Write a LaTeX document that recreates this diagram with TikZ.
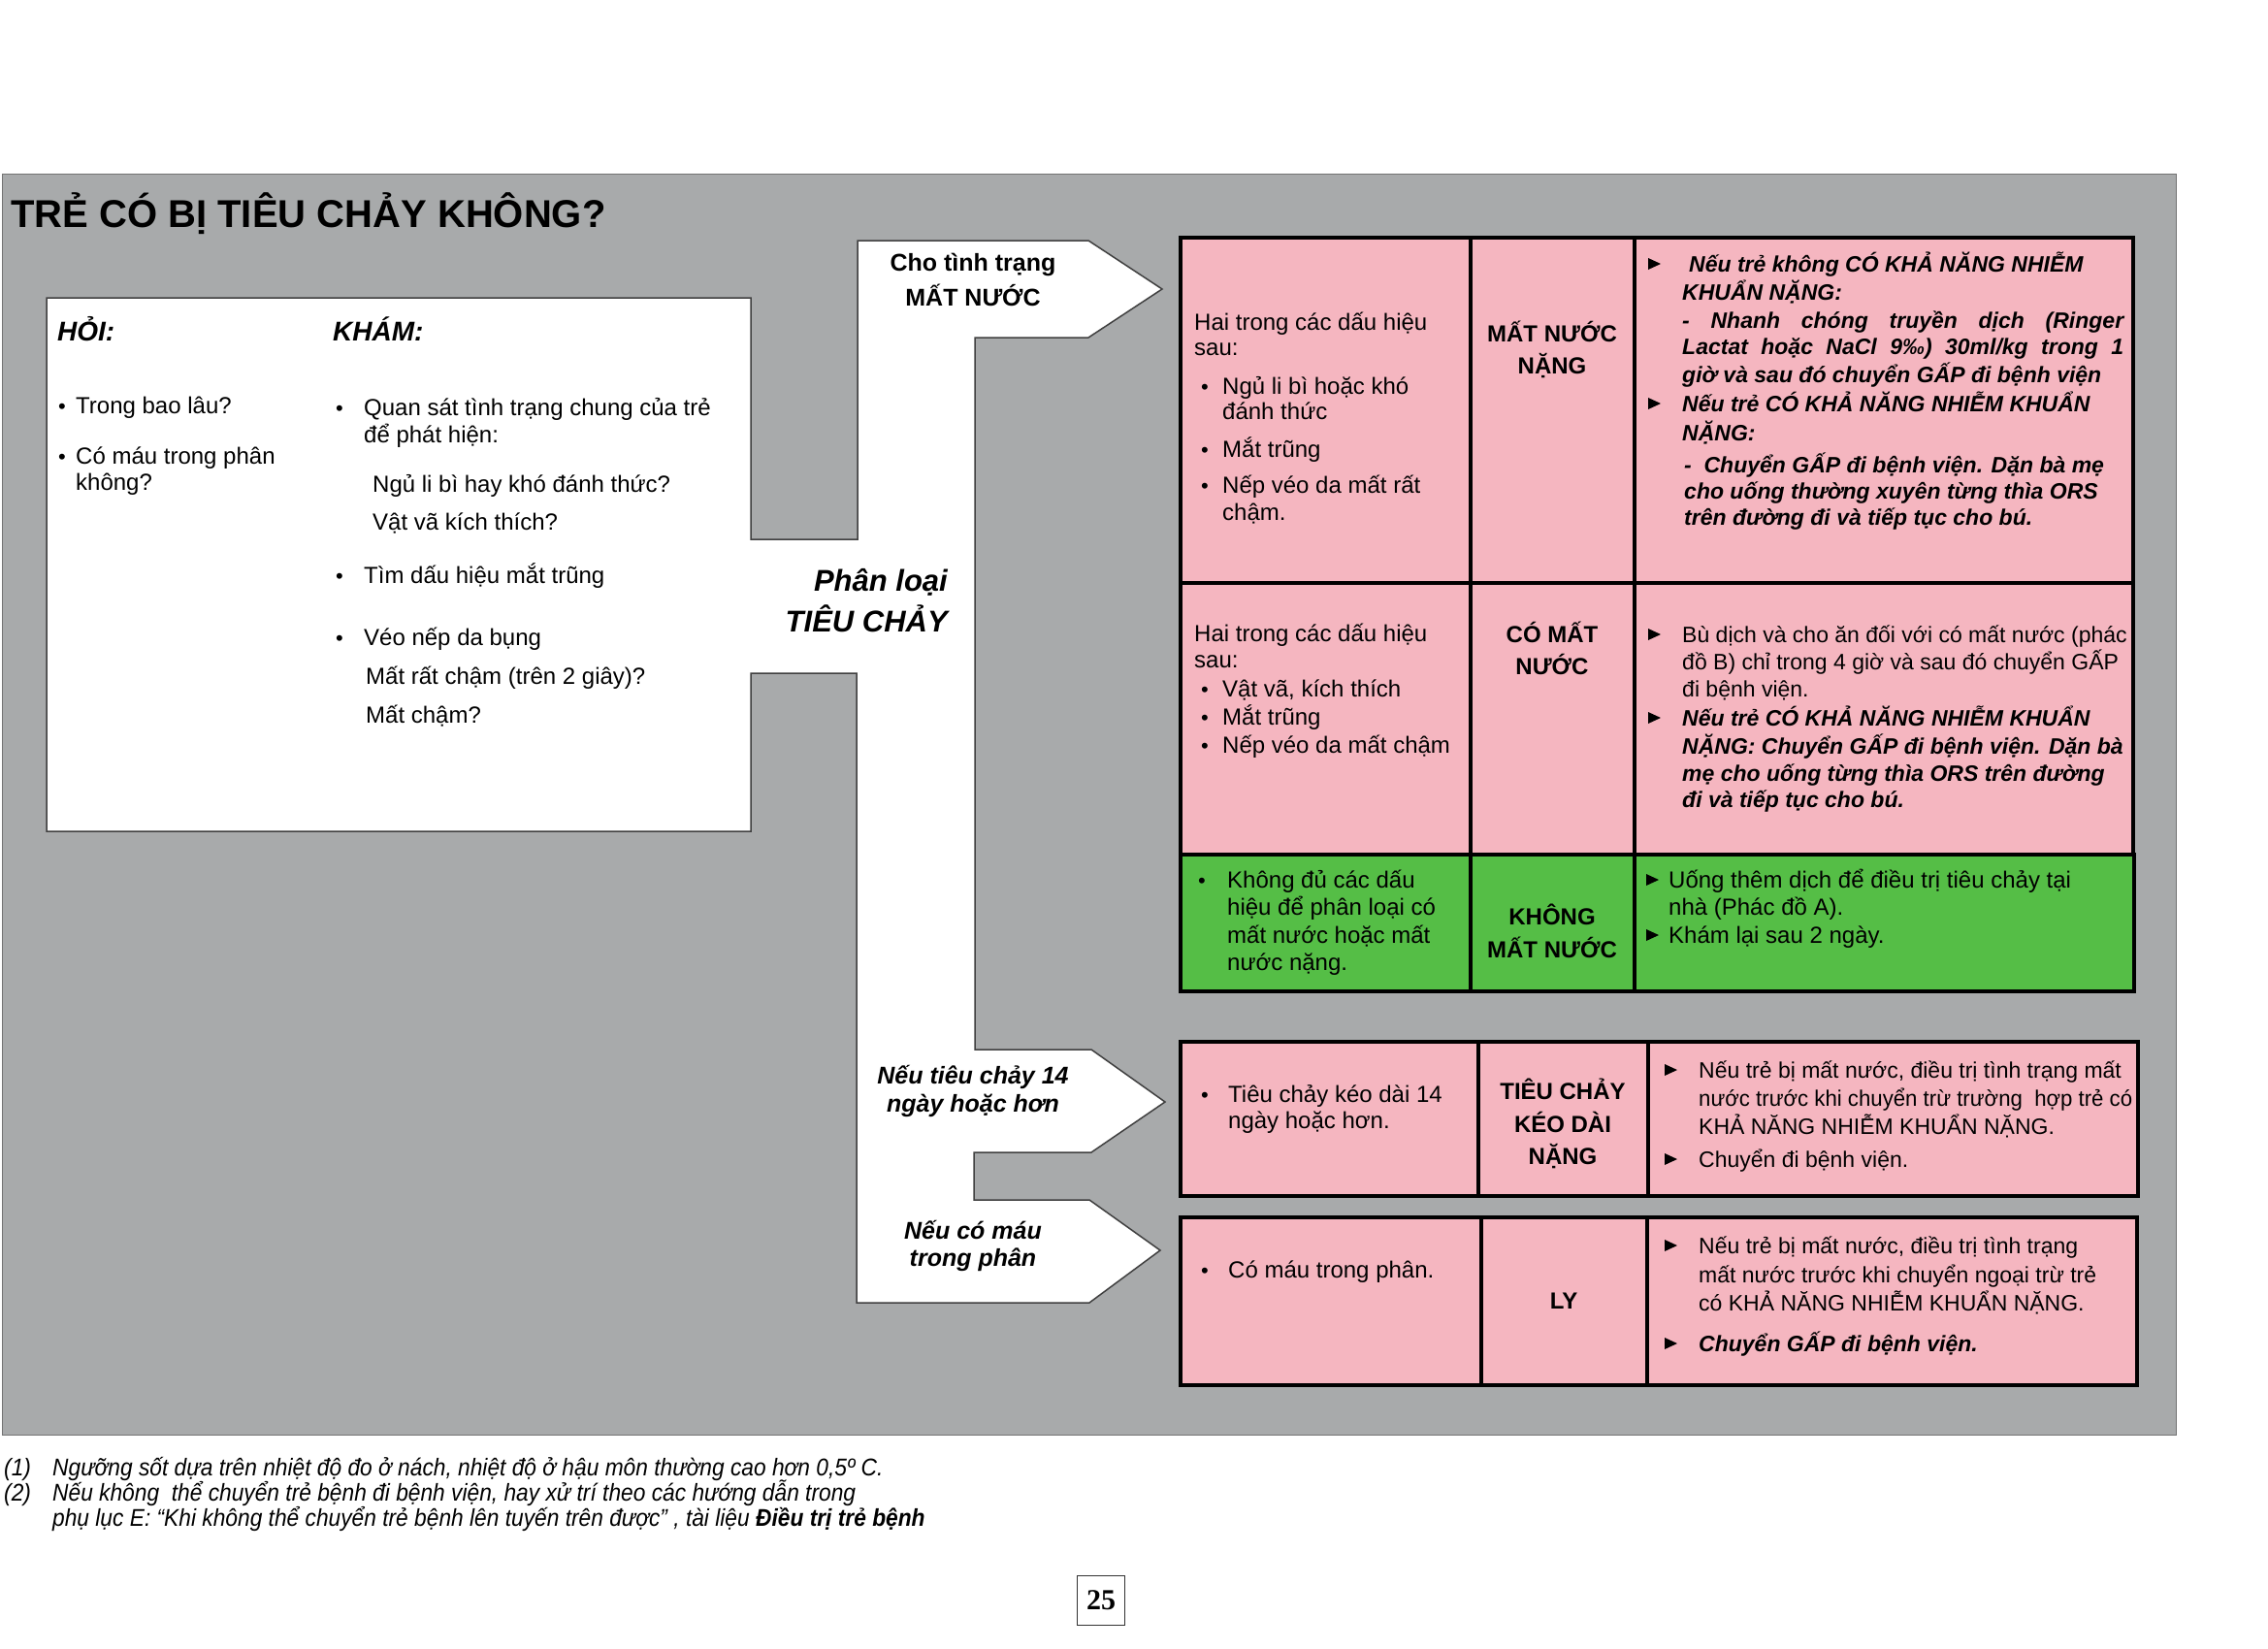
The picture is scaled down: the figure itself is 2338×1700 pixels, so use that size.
\documentclass[tikz,border=0pt]{standalone}
\usepackage{fontspec}
\setmainfont{Liberation Sans}
\newfontfamily\pgnumfont{Liberation Serif}
\newfontfamily\narrowsans[FakeStretch=0.965]{Liberation Sans}
\newfontfamily\fnfont[FakeStretch=0.91]{Liberation Sans}
\newcommand\fs[1]{\fontsize{#1}{#1}\selectfont}
\definecolor{panelgray}{HTML}{A8AAAB}
\definecolor{cellpink}{HTML}{F5B6C0}
\definecolor{cellgreen}{HTML}{55BE46}
\newcommand\tri[2]{\fill (#1,#2-2) -- (#1,#2-14) -- (#1+13,#2-8) -- cycle;}
\begin{document}
\begin{tikzpicture}[x=1pt,y=-1pt,
  body/.style={anchor=base west,inner sep=0pt,font=\fs{24}},
  bodyi/.style={anchor=base west,inner sep=0pt,font=\fs{23}\bfseries\itshape},
  act/.style={anchor=base west,inner sep=0pt,font=\fs{23}},
  cls/.style={anchor=base,inner sep=0pt,font=\fs{24}\bfseries},
  lbl/.style={anchor=base,inner sep=0pt,font=\fs{25}\bfseries},
  lbli/.style={anchor=base,inner sep=0pt,font=\fs{25}\bfseries\itshape},
  head/.style={anchor=base west,inner sep=0pt,font=\fs{28}\bfseries\itshape},
  fn/.style={anchor=base west,inner sep=0pt,font=\fnfont\fs{25}\itshape},
  bul/.style={anchor=base west,inner sep=0pt,font=\fs{22}},
  cell/.style={draw=black,line width=4pt},
  wshape/.style={fill=white,draw=black!75,line width=1.5pt,line join=miter}]
\useasboundingbox (0,0) rectangle (2338,1700);
\fill[white] (0,0) rectangle (2338,1700);
% grey panel
\fill[panelgray,draw=black!55,line width=1pt] (2,179) rectangle (2243,1479);
% title
\node[anchor=base west,inner sep=0pt,font=\fs{40}\bfseries] (title) at (11,234) {TRẺ CÓ BỊ TIÊU CHẢY KHÔNG?};
% white box with T-shaped arrows
\draw[wshape] (48,307) -- (774,307) -- (774,556) -- (884,556) -- (884,248)
  -- (1122,248) -- (1198,298) -- (1122,348) -- (1005,348) -- (1005,1082)
  -- (1125,1082) -- (1201,1136) -- (1125,1188) -- (1004,1188) -- (1004,1237)
  -- (1123,1237) -- (1196,1289) -- (1123,1343) -- (883,1343) -- (883,694)
  -- (774,694) -- (774,857) -- (48,857) -- cycle;
% left box texts
\node[head] (hoi) at (59,351) {HỎI:};
\node[head] (kham) at (343,351) {KHÁM:};
\node[bul] (hb1) at (60,426) {•};
\node[body] (h1) at (78,426) {Trong bao lâu?};
\node[bul] (hb2) at (60,478) {•};
\node[body] (h2) at (78,478) {Có máu trong phân};
\node[body] (h2b) at (78,505) {không?};
\node[bul] (kb1) at (346,428) {•};
\node[body] (k1) at (375,428) {Quan sát tình trạng chung của trẻ};
\node[body] (k1b) at (375,456) {để phát hiện:};
\node[body] (k2) at (384,507) {Ngủ li bì hay khó đánh thức?};
\node[body] (k3) at (384,546) {Vật vã kích thích?};
\node[bul] (kb2) at (346,601) {•};
\node[body] (k4) at (375,601) {Tìm dấu hiệu mắt trũng};
\node[bul] (kb3) at (346,665) {•};
\node[body] (k5) at (375,665) {Véo nếp da bụng};
\node[body] (k6) at (377,705) {Mất rất chậm (trên 2 giây)?};
\node[body] (k7) at (377,745) {Mất chậm?};
% arrow labels
\node[lbl] (a1) at (1003,279) {Cho tình trạng};
\node[lbl] (a1b) at (1003,315) {MẤT NƯỚC};
\node[anchor=base east,inner sep=0pt,font=\fs{31}\bfseries\itshape] (pl1) at (977,609) {Phân loại};
\node[anchor=base east,inner sep=0pt,font=\fs{31}\bfseries\itshape] (pl2) at (977,651) {TIÊU CHẢY};
\node[lbli] (a2) at (1003,1117) {Nếu tiêu chảy 14};
\node[lbli] (a2b) at (1003,1146) {ngày hoặc hơn};
\node[lbli] (a3) at (1003,1277) {Nếu có máu};
\node[lbli] (a3b) at (1003,1305) {trong phân};
% main table cells
\draw[cell,fill=cellpink] (1217,245) rectangle (1516,601);
\draw[cell,fill=cellpink] (1516,245) rectangle (1685,601);
\draw[cell,fill=cellpink] (1685,245) rectangle (2199,601);
\draw[cell,fill=cellpink] (1217,601) rectangle (1516,881);
\draw[cell,fill=cellpink] (1516,601) rectangle (1685,881);
\draw[cell,fill=cellpink] (1685,601) rectangle (2199,881);
\draw[cell,fill=cellgreen] (1217,881) rectangle (1516,1022);
\draw[cell,fill=cellgreen] (1516,881) rectangle (1685,1022);
\draw[cell,fill=cellgreen] (1685,881) rectangle (2200,1022);
% row 4
\draw[cell,fill=cellpink] (1217,1074) rectangle (1524,1233);
\draw[cell,fill=cellpink] (1524,1074) rectangle (1699,1233);
\draw[cell,fill=cellpink] (1699,1074) rectangle (2204,1233);
% row 5
\draw[cell,fill=cellpink] (1217,1255) rectangle (1527,1428);
\draw[cell,fill=cellpink] (1527,1255) rectangle (1698,1428);
\draw[cell,fill=cellpink] (1698,1255) rectangle (2203,1428);
% row 1
\node[body] (r1a) at (1231,340) {Hai trong các dấu hiệu};
\node[body] (r1b) at (1231,366) {sau:};
\node[bul] (r1u1) at (1238,406) {•};
\node[body] (r1c) at (1260,406) {Ngủ li bì hoặc khó};
\node[body] (r1d) at (1260,432) {đánh thức};
\node[bul] (r1u2) at (1238,471) {•};
\node[body] (r1e) at (1260,471) {Mắt trũng};
\node[bul] (r1u3) at (1238,508) {•};
\node[body] (r1f) at (1260,508) {Nếp véo da mất rất};
\node[body] (r1g) at (1260,536) {chậm.};
\node[cls] (c1a) at (1600,352) {MẤT NƯỚC};
\node[cls] (c1b) at (1600,385) {NẶNG};
\tri{1699}{280}
\node[bodyi] (d1) at (1741,280) {Nếu trẻ không CÓ KHẢ NĂNG NHIỄM};
\node[bodyi] (d2) at (1734,309) {KHUẨN NẶNG:};
\node[bodyi] (d3) at (1734,338) {\makebox[455pt][s]{- Nhanh chóng truyền dịch (Ringer}};
\node[bodyi] (d4) at (1734,365) {\makebox[455pt][s]{Lactat hoặc NaCl 9‰) 30ml/kg trong 1}};
\node[bodyi] (d5) at (1734,394) {giờ và sau đó chuyển GẤP đi bệnh viện};
\tri{1699}{424}
\node[bodyi] (d6) at (1734,424) {Nếu trẻ CÓ KHẢ NĂNG NHIỄM KHUẨN};
\node[bodyi] (d7) at (1734,454) {NẶNG:};
\node[bodyi] (d8) at (1736,487) {-\ \ Chuyển GẤP đi bệnh viện. Dặn bà mẹ};
\node[bodyi] (d9) at (1736,514) {cho uống thường xuyên từng thìa ORS};
\node[bodyi] (d10) at (1736,541) {trên đường đi và tiếp tục cho bú.};
% row 2
\node[body] (e1) at (1231,661) {Hai trong các dấu hiệu};
\node[body] (e2) at (1231,688) {sau:};
\node[bul] (e2u1) at (1238,718) {•};
\node[body] (e3) at (1260,718) {Vật vã, kích thích};
\node[bul] (e2u2) at (1238,747) {•};
\node[body] (e4) at (1260,747) {Mắt trũng};
\node[bul] (e2u3) at (1238,776) {•};
\node[body] (e5) at (1260,776) {Nếp véo da mất chậm};
\node[cls] (f1) at (1600,662) {CÓ MẤT};
\node[cls] (f2) at (1600,695) {NƯỚC};
\tri{1699}{662}
\node[act] (g1) at (1734,662) {Bù dịch và cho ăn đối với có mất nước (phác};
\node[act] (g2) at (1734,690) {đồ B) chỉ trong 4 giờ và sau đó chuyển GẤP};
\node[act] (g3) at (1734,718) {đi bệnh viện.};
\tri{1699}{748}
\node[bodyi] (g4) at (1734,748) {Nếu trẻ CÓ KHẢ NĂNG NHIỄM KHUẨN};
\node[bodyi] (g5) at (1734,777) {NẶNG: Chuyển GẤP đi bệnh viện. Dặn bà};
\node[bodyi] (g6) at (1734,805) {mẹ cho uống từng thìa ORS trên đường};
\node[bodyi] (g7) at (1734,832) {đi và tiếp tục cho bú.};
% row 3
\node[bul] (h3u) at (1235,915) {•};
\node[body] (h31) at (1265,915) {Không đủ các dấu};
\node[body] (h32) at (1265,943) {hiệu để phân loại có};
\node[body] (h33) at (1265,972) {mất nước hoặc mất};
\node[body] (h34) at (1265,1000) {nước nặng.};
\node[cls] (i1) at (1600,953) {KHÔNG};
\node[cls] (i2) at (1600,987) {MẤT NƯỚC};
\tri{1697}{915}
\node[body] (j1) at (1720,915) {Uống thêm dịch để điều trị tiêu chảy tại};
\node[body] (j2) at (1720,943) {nhà (Phác đồ A).};
\tri{1697}{972}
\node[body] (j3) at (1720,972) {Khám lại sau 2 ngày.};
% row 4
\node[bul] (m0) at (1238,1136) {•};
\node[body] (m1) at (1266,1136) {Tiêu chảy kéo dài 14};
\node[body] (m2) at (1266,1163) {ngày hoặc hơn.};
\node[cls] (n1) at (1611,1133) {TIÊU CHẢY};
\node[cls] (n2) at (1611,1167) {KÉO DÀI};
\node[cls] (n3) at (1611,1200) {NẶNG};
\tri{1716}{1111}
\node[act] (o1) at (1751,1111) {Nếu trẻ bị mất nước, điều trị tình trạng mất};
\node[act,font=\narrowsans\fs{23}] (o2) at (1751,1140) {nước trước khi chuyển trừ trường\ \ hợp trẻ có};
\node[act] (o3) at (1751,1169) {KHẢ NĂNG NHIỄM KHUẨN NẶNG.};
\tri{1716}{1203}
\node[act] (o4) at (1751,1203) {Chuyển đi bệnh viện.};
% row 5
\node[bul] (p0) at (1238,1317) {•};
\node[body] (p1) at (1266,1317) {Có máu trong phân.};
\node[cls] (q1) at (1612,1349) {LY};
\tri{1716}{1292}
\node[act] (s1) at (1751,1292) {Nếu trẻ bị mất nước, điều trị tình trạng};
\node[act] (s2) at (1751,1322) {mất nước trước khi chuyển ngoại trừ trẻ};
\node[act] (s3) at (1751,1351) {có KHẢ NĂNG NHIỄM KHUẨN NẶNG.};
\tri{1716}{1393}
\node[bodyi] (s4) at (1751,1393) {Chuyển GẤP đi bệnh viện.};
% footnotes
\node[fn] (fn1n) at (4,1521) {(1)};
\node[fn] (fn1) at (54,1521) {Ngưỡng sốt dựa trên nhiệt độ đo ở nách, nhiệt độ ở hậu môn thường cao hơn 0,5º C.};
\node[fn] (fn2n) at (4,1547) {(2)};
\node[fn] (fn2) at (54,1547) {Nếu không\ \ thể chuyển trẻ bệnh đi bệnh viện, hay xử trí theo các hướng dẫn trong};
\node[fn] (fn3) at (54,1573) {phụ lục E: “Khi không thể chuyển trẻ bệnh lên tuyến trên được” , tài liệu \textbf{Điều trị trẻ bệnh}};
% page number
\node[draw=black!80,line width=1.5pt,minimum width=49pt,minimum height=51pt,inner sep=0pt,font=\pgnumfont\bfseries\fs{30}] (pg) at (1135,1650) {25};
\end{tikzpicture}
\end{document}
